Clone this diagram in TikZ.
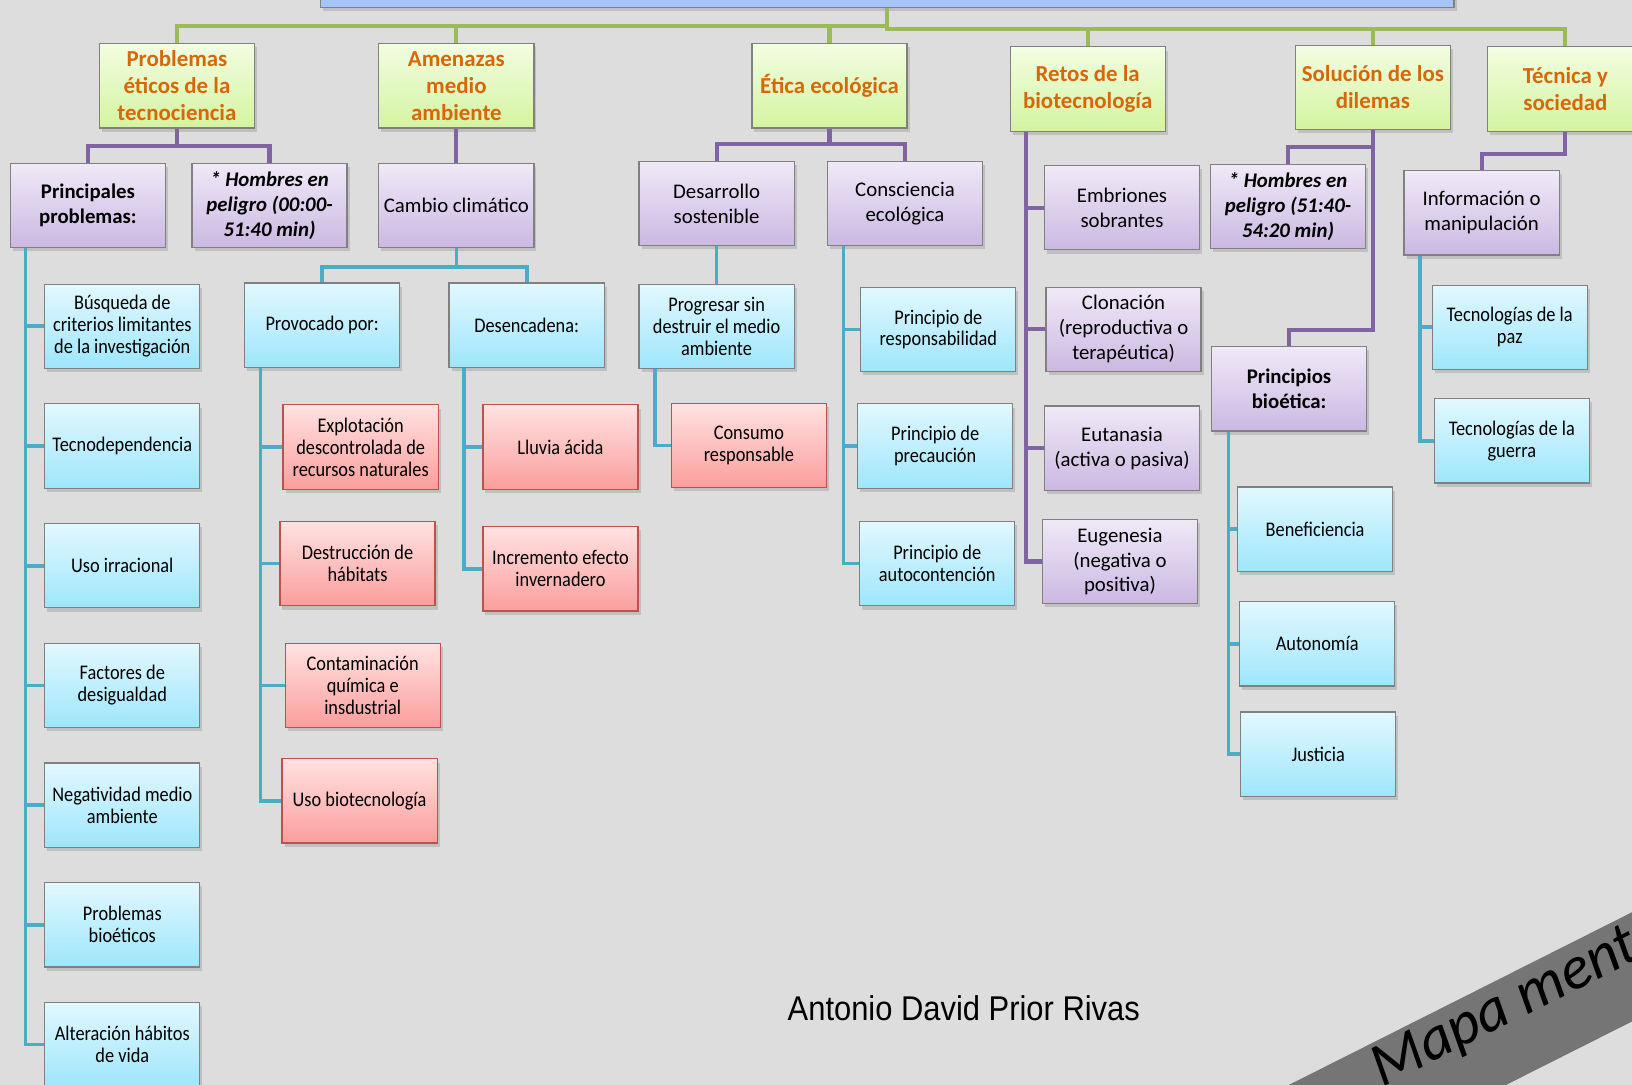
\documentclass[tikz,border=0pt]{standalone}
\usepackage{fontspec}
\setmainfont{Carlito}
\newfontfamily\estrecha[FakeStretch=0.88]{Carlito}
\newfontfamily\autorfont[FakeStretch=0.9]{Liberation Sans}
\usetikzlibrary{shadows,calc}

\definecolor{fondo}{RGB}{221,221,221}
\definecolor{verde}{RGB}{155,187,89}
\definecolor{morado}{RGB}{128,100,162}
\definecolor{aqua}{RGB}{75,172,198}
\definecolor{rojo}{RGB}{192,80,77}
\definecolor{naranja}{RGB}{214,104,12}
\definecolor{borde}{RGB}{128,128,128}
\definecolor{banda}{RGB}{117,117,117}
\definecolor{raizfill}{RGB}{166,198,250}
\definecolor{verdearr}{RGB}{242,253,226}
\definecolor{verdeab}{RGB}{212,244,160}
\definecolor{moradoarr}{RGB}{240,233,247}
\definecolor{moradoab}{RGB}{203,184,226}
\definecolor{aquaarr}{RGB}{226,248,255}
\definecolor{aquaab}{RGB}{158,230,251}
\definecolor{rojoarr}{RGB}{255,226,226}
\definecolor{rojoab}{RGB}{250,158,156}

\tikzset{
  caja/.style={draw=borde, line width=0.6pt, minimum width=74.5pt,
    minimum height=40.5pt, inner sep=1pt, align=center,
    drop shadow={opacity=0.3, shadow xshift=1.2pt, shadow yshift=-1.8pt}},
  raizbox/.style={caja, fill=raizfill, minimum width=544.5pt, minimum height=18.5pt},
  titulo/.style={caja, top color=verdearr, bottom color=verdeab,
    font=\fontsize{11}{13}\selectfont\bfseries, text=naranja},
  rama/.style={caja, top color=moradoarr, bottom color=moradoab,
    font=\fontsize{10}{12}\selectfont},
  peligro/.style={rama, font=\fontsize{10}{12}\selectfont\bfseries\itshape},
  hoja/.style={caja, top color=aquaarr, bottom color=aquaab,
    font=\estrecha\fontsize{10}{10.5}\selectfont},
  causa/.style={hoja, draw=rojo, top color=rojoarr, bottom color=rojoab},
  gline/.style={draw=verde, line width=2pt},
  pline/.style={draw=morado, line width=2pt},
  aline/.style={draw=aqua, line width=1.8pt}
}

\begin{document}
\begin{tikzpicture}[x=0.5pt,y=-0.5pt]
  \path[use as bounding box] (0,0) rectangle (1568,1042);
  \clip (0,0) rectangle (1568,1042);
  \fill[fondo] (0,0) rectangle (1568,1042);
  \fill[banda] (1100,1112) -- (1700,810) -- (1700,915) -- (1100,1217) -- cycle;

  \node[raizbox] (raiz) at (852.5,-11.5) {};

  \node[titulo] (probl) at (170,82.5) {Problemas\\éticos de la\\tecnociencia};
  \node[titulo] (amen) at (438.5,82.5) {Amenazas\\medio\\ambiente};
  \node[titulo] (etica) at (797,82.5) {Ética ecológica};
  \node[titulo] (retos) at (1045,85.5) {Retos de la\\biotecnología};
  \node[titulo] (soluc) at (1319,84) {Solución de los\\dilemas};
  \node[titulo] (tecsoc) at (1504,85.5) {Técnica y\\sociedad};

  \node[rama, font=\fontsize{10}{12}\selectfont\bfseries] (princ) at (84.5,197.5) {Principales\\problemas:};
  \node[peligro] (homb1) at (259,197.5) {* Hombres en\\peligro (00:00-\\51:40 min)};
  \node[rama] (cambio) at (438.5,197.5) {Cambio climático};
  \node[rama] (desarr) at (688.5,195.5) {Desarrollo\\sostenible};
  \node[rama] (consc) at (869.5,195.5) {Consciencia\\ecológica};
  \node[rama] (embr) at (1078,199.5) {Embriones\\sobrantes};
  \node[rama] (clon) at (1079.5,316.5) {Clonación\\(reproductiva o\\terapéutica)};
  \node[rama] (euta) at (1078,430.5) {Eutanasia\\(activa o pasiva)};
  \node[rama] (euge) at (1076,539.5) {Eugenesia\\(negativa o\\positiva)};
  \node[peligro] (homb2) at (1237.5,198.5) {* Hombres en\\peligro (51:40-\\54:20 min)};
  \node[rama, font=\fontsize{10}{12}\selectfont\bfseries] (pbio) at (1238.5,373.5) {Principios\\bioética:};
  \node[rama] (infor) at (1423.5,204.5) {Información o\\manipulación};

  \node[hoja] (busq) at (117.5,313.5) {Búsqueda de\\criterios limitantes\\de la investigación};
  \node[hoja] (tecno) at (117.5,428.5) {Tecnodependencia};
  \node[hoja] (uso) at (117.5,543.5) {Uso irracional};
  \node[hoja] (fact) at (117.5,658.5) {Factores de\\desigualdad};
  \node[hoja] (neg) at (117.5,773.5) {Negatividad medio\\ambiente};
  \node[hoja] (probb) at (117.5,888.5) {Problemas\\bioéticos};
  \node[hoja] (alter) at (117.5,1003.5) {Alteración hábitos\\de vida};
  \node[hoja] (provoc) at (309.5,312.5) {Provocado por:};
  \node[hoja] (desenc) at (506,312.5) {Desencadena:};
  \node[hoja] (progr) at (688.5,313.5) {Progresar sin\\destruir el medio\\ambiente};
  \node[hoja] (presp) at (901.5,316.5) {Principio de\\responsabilidad};
  \node[hoja] (pprec) at (898.5,428.5) {Principio de\\precaución};
  \node[hoja] (pauto) at (900.5,541.5) {Principio de\\autocontención};
  \node[hoja] (benef) at (1263.5,508.5) {Beneficiencia};
  \node[hoja] (auton) at (1265.5,618.5) {Autonomía};
  \node[hoja] (justi) at (1266.5,724.5) {Justicia};
  \node[hoja] (tpaz) at (1450.5,314.5) {Tecnologías de la\\paz};
  \node[hoja] (tguer) at (1452.5,423.5) {Tecnologías de la\\guerra};

  \node[causa] (explo) at (346.5,429.5) {Explotación\\descontrolada de\\recursos naturales};
  \node[causa] (destr) at (343.5,541.5) {Destrucción de\\hábitats};
  \node[causa] (conta) at (348.5,658.5) {Contaminación\\química e\\insdustrial};
  \node[causa] (usobio) at (345.5,769.5) {Uso biotecnología};
  \node[causa] (lluvia) at (538.5,429.5) {Lluvia ácida};
  \node[causa] (incre) at (538.5,546.5) {Incremento efecto\\invernadero};
  \node[causa] (consu) at (719.5,428) {Consumo\\responsable};

  \node[font=\autorfont\fontsize{16.5}{18}\selectfont] (autor) at (926,969) {Antonio David Prior Rivas};
  \node[font=\fontsize{29.5}{31}\selectfont\itshape, rotate=26.6, anchor=base west] (lema) at (1322,1048) {Mapa ment};

  \coordinate (gjl) at (852.5,25);
  \coordinate (gjr) at (852.5,28);
  \foreach \c in {probl,amen,etica}
    \draw[gline] (raiz.south) -- (gjl) -| (\c.north);
  \foreach \c in {retos,soluc,tecsoc}
    \draw[gline] (raiz.south) -- (gjr) -| (\c.north);

  \begin{scope}[pline]
    \draw (probl.south) -- ++(0,17) -| (princ.north);
    \draw (probl.south) -- ++(0,17) -| (homb1.north);
    \draw (amen.south) -- (cambio.north);
    \draw (etica.south) -- ++(0,15) -| (desarr.north);
    \draw (etica.south) -- ++(0,15) -| (consc.north);
    \foreach \c in {embr,clon,euta,euge}
      \draw ([xshift=8pt]retos.south west) |- (\c.west);
    \draw (soluc.south) -- ++(0,16) -| (homb2.north);
    \draw (soluc.south) -- ++(0,192) -| (pbio.north);
    \draw (tecsoc.south) -- ++(0,21) -| (infor.north);
  \end{scope}

  \begin{scope}[aline]
    \foreach \c in {busq,tecno,uso,fact,neg,probb,alter}
      \draw ([xshift=7.5pt]princ.south west) |- (\c.west);
    \draw (cambio.south) -- ++(0,18) -| (provoc.north);
    \draw (cambio.south) -- ++(0,18) -| (desenc.north);
    \foreach \c in {explo,destr,conta,usobio}
      \draw ([xshift=8pt]provoc.south west) |- (\c.west);
    \foreach \c in {lluvia,incre}
      \draw ([xshift=7.5pt]desenc.south west) |- (\c.west);
    \draw (desarr.south) -- (progr.north);
    \draw ([xshift=8pt]progr.south west) |- (consu.west);
    \foreach \c in {presp,pprec,pauto}
      \draw ([xshift=8pt]consc.south west) |- (\c.west);
    \foreach \c in {benef,auton,justi}
      \draw ([xshift=8.5pt]pbio.south west) |- (\c.west);
    \foreach \c in {tpaz,tguer}
      \draw ([xshift=8pt]infor.south west) |- (\c.west);
  \end{scope}
\end{tikzpicture}
\end{document}
